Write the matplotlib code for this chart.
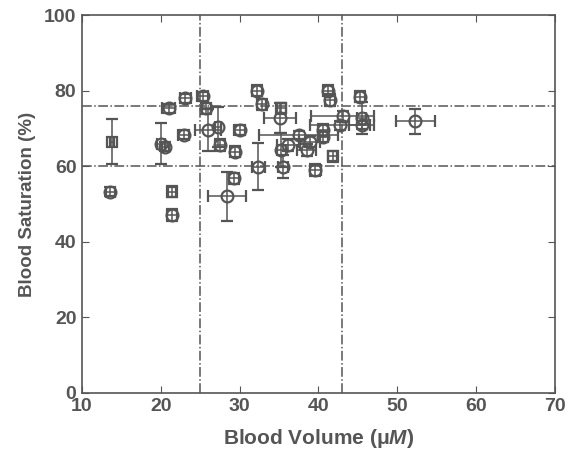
import matplotlib
matplotlib.use("Agg")
import matplotlib.pyplot as plt

# blood volume (uM), saturation (%), and their error bars
volume = [13.8, 13.6, 20.0, 20.6, 21.0, 21.4, 21.4, 22.9, 23.1, 25.3,
          25.8, 26.0, 27.3, 27.5, 30.0, 29.4, 29.3, 28.4, 32.4, 32.2,
          32.8, 35.1, 35.3, 37.5, 35.3, 35.5, 36.2, 38.5, 38.9, 39.6,
          40.6, 40.6, 41.2, 41.5, 41.8, 42.7, 43.1, 45.3, 45.5, 45.5,
          52.3]
saturation = [66.5, 53.3, 66.0, 65.2, 75.3, 53.3, 47.1, 68.3, 78.0, 78.5,
              75.3, 69.6, 70.5, 65.6, 69.6, 63.9, 56.8, 52.0, 59.9, 80.0,
              76.4, 72.7, 75.3, 68.3, 64.3, 59.9, 65.6, 64.3, 66.5, 59.0,
              69.6, 67.8, 80.0, 77.5, 62.6, 70.9, 73.2, 78.4, 72.7, 70.9,
              71.9]
volume_err = [0.3, 0.6, 0.5, 0.5, 0.8, 0.5, 0.6, 0.7, 0.7, 0.7,
              0.6, 1.6, 0.4, 0.6, 0.7, 0.6, 0.6, 2.4, 0.8, 0.6,
              0.6, 2.0, 0.6, 5.0, 0.6, 0.6, 1.5, 1.2, 1.3, 0.7,
              0.6, 0.6, 0.6, 0.6, 0.6, 3.8, 4.0, 0.6, 0.6, 1.6,
              2.5]
saturation_err = [6.0, 1.2, 5.5, 1.2, 1.2, 1.5, 1.5, 1.2, 1.2, 1.2,
                  1.5, 5.5, 5.3, 1.5, 1.2, 1.5, 1.5, 6.5, 6.3, 1.5,
                  1.5, 4.0, 1.5, 1.0, 4.5, 3.0, 1.5, 1.5, 1.5, 1.5,
                  1.5, 1.5, 1.5, 1.5, 1.5, 1.2, 1.5, 1.5, 4.2, 1.0,
                  3.3]
square_pts = [0, 5, 22, 34]

volume_limits = [25, 43]
saturation_limits = [60, 76]

grey = '#555555'
plt.rcParams['font.family'] = ['Liberation Sans', 'DejaVu Sans']
plt.rcParams['font.weight'] = 'bold'
plt.rcParams['mathtext.fontset'] = 'custom'
plt.rcParams['mathtext.it'] = 'Liberation Sans:italic:bold'
plt.rcParams['mathtext.rm'] = 'Liberation Sans:bold'

fig = plt.figure(figsize=(5.69, 4.59), dpi=100)
ax = fig.add_axes([0.144, 0.144, 0.831, 0.823])

for i in range(len(volume)):
    if i in square_pts:
        mk, size = 's', 7
    else:
        mk, size = 'o', 8.5
    ax.errorbar(volume[i], saturation[i], xerr=volume_err[i], yerr=saturation_err[i],
                fmt=mk, ms=size, mfc='none', mec=grey, mew=1.6,
                ecolor=grey, elinewidth=1.1, capsize=4, capthick=1.3, zorder=3)

# threshold lines
for v in volume_limits:
    ax.axvline(v, color=grey, lw=1.1, ls='-.', zorder=1)
for s in saturation_limits:
    ax.axhline(s, color=grey, lw=1.1, ls='-.', zorder=1)

ax.set_xlim(10, 70)
ax.set_ylim(0, 100)
ax.set_xticks(range(10, 71, 10))
ax.set_yticks(range(0, 101, 20))

for sp in ax.spines.values():
    sp.set_color(grey)
    sp.set_linewidth(1.2)
ax.tick_params(direction='in', top=True, right=True, length=5, color=grey,
               labelcolor=grey, labelsize=14, pad=4)

ax.set_xlabel(r'Blood Volume (μ$\mathit{M}$)', fontsize=15, color=grey, fontweight='bold', labelpad=8)
ax.set_ylabel('Blood Saturation (%)', fontsize=13.5, color=grey, fontweight='bold', labelpad=6)

fig.savefig('out.png', dpi=100)
